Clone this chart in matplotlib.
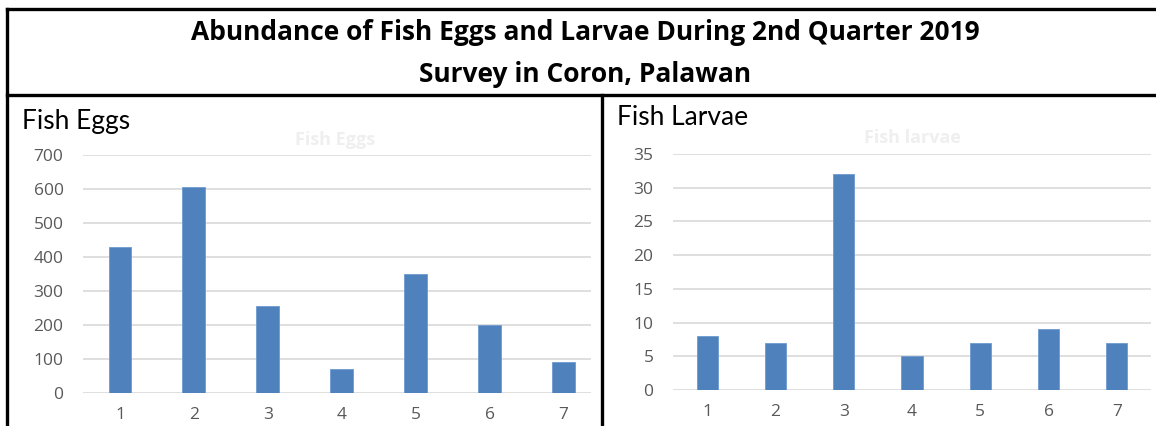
import matplotlib.pyplot as plt
from matplotlib.lines import Line2D

stations = ["1", "2", "3", "4", "5", "6", "7"]
fish_eggs = [430, 605, 255, 72, 350, 200, 90]
fish_larvae = [8, 7, 32, 5, 7, 9, 7]

title_lines = ["Abundance of Fish Eggs and Larvae During 2nd Quarter 2019",
               "Survey in Coron, Palawan"]

bar_color = "#4F81BD"
grid_color = "#D9D9D9"
tick_color = "#595959"

W, H = 1156, 426
fig = plt.figure(figsize=(W / 100, H / 100), dpi=100)


def px(x0, y0, x1, y1):
    # pixel box (top-left origin) -> figure fraction rect
    return [x0 / W, 1 - y1 / H, (x1 - x0) / W, (y1 - y0) / H]


def panel(ax, values, ymax, step, xright):
    x = range(len(values))
    ax.bar(x, values, width=0.31, color=bar_color, edgecolor="#6F9AD0", linewidth=0.6, zorder=3)
    ax.set_xlim(-0.5, xright)
    ax.set_ylim(0, ymax)
    ax.set_yticks(range(0, ymax + 1, step))
    ax.set_xticks(list(x))
    ax.set_xticklabels(stations)
    ax.grid(axis="y", color=grid_color, linewidth=1.2, zorder=0)
    for s in ax.spines.values():
        s.set_visible(False)
    ax.tick_params(axis="both", length=0, colors=tick_color, labelsize=12.5)
    ax.tick_params(axis="y", pad=14)
    ax.tick_params(axis="x", pad=10)
    for lab in ax.get_xticklabels() + ax.get_yticklabels():
        lab.set_fontfamily("Open Sans")


ax1 = fig.add_axes(px(83, 155, 591, 393))
panel(ax1, fish_eggs, 700, 100, 6.37)

ax2 = fig.add_axes(px(673, 154, 1151, 390))
panel(ax2, fish_larvae, 35, 5, 6.5)

# faint ghost captions left over from the original screenshot
fig.text(335 / W, 1 - 140 / H, "Fish Eggs", color="#EFEFEF", fontsize=13, fontweight="bold",
         ha="center", va="center", family="Open Sans")
fig.text(912 / W, 1 - 138 / H, "Fish larvae", color="#EFEFEF", fontsize=13, fontweight="bold",
         ha="center", va="center", family="Open Sans")

# panel headings
fig.text(22 / W, 1 - 121 / H, "Fish Eggs", fontsize=19, ha="left", va="center", family="Lato")
fig.text(617 / W, 1 - 117 / H, "Fish Larvae", fontsize=19, ha="left", va="center", family="Lato")

# title, two centred lines
fig.text(585 / W, 1 - 33 / H, title_lines[0], fontsize=19, fontweight="bold",
         ha="center", va="center", family="Open Sans")
fig.text(585 / W, 1 - 75 / H, title_lines[1], fontsize=19, fontweight="bold",
         ha="center", va="center", family="Open Sans")

# table borders
lw = 2.4
for (xs, ys) in [
    ((7, W), (9, 9)),
    ((7, W), (95, 95)),
    ((7, 7), (9, H)),
    ((602, 602), (95, H)),
]:
    fig.add_artist(Line2D([x / W for x in xs], [1 - y / H for y in ys], color="black",
                          linewidth=lw, transform=fig.transFigure))

fig.savefig("out.png", dpi=100)
